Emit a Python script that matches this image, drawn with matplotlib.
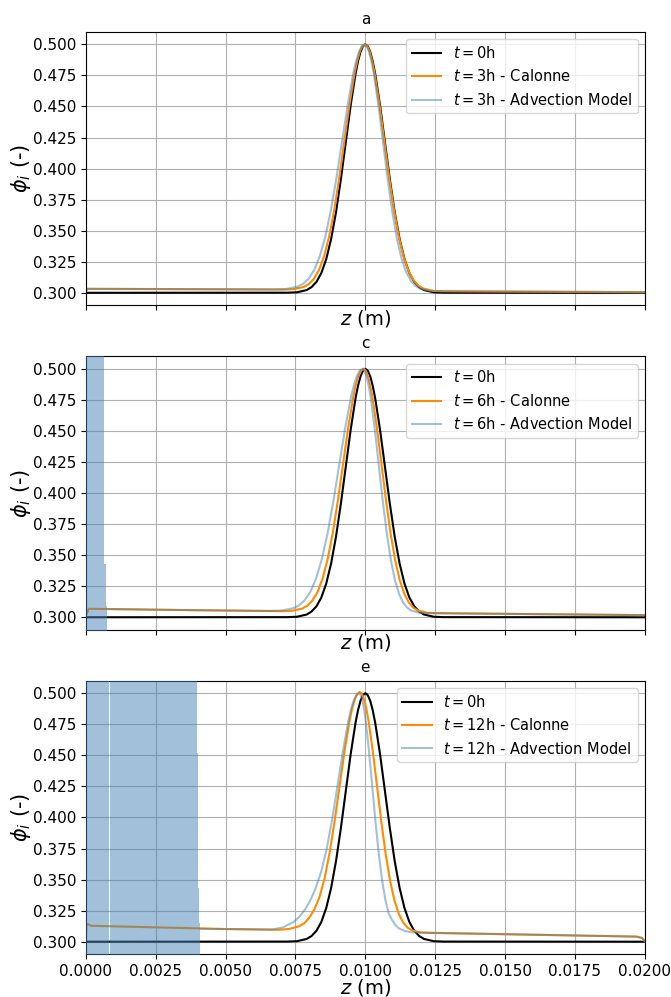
import numpy as np
import matplotlib
matplotlib.use('Agg')
import matplotlib.pyplot as plt
from matplotlib.ticker import MultipleLocator

# initial profile (same for every panel)
z_init = [0.0, 0.0072, 0.00755, 0.0079, 0.008075, 0.00825, 0.008425, 0.0086, 0.008775, 0.00895,
          0.009125, 0.0093, 0.009475, 0.00965, 0.0097375, 0.009825, 0.0099125, 0.01,
          0.0100875, 0.010175, 0.0102625, 0.01035, 0.010525, 0.0107,
          0.010875, 0.01105, 0.011225, 0.0114, 0.011575, 0.01175, 0.011925, 0.0121, 0.01245, 0.0128, 0.02]
phi_init = [0.3, 0.3001, 0.3004, 0.3022, 0.3046, 0.3088, 0.3159, 0.3271, 0.3433, 0.3649,
            0.3916, 0.4213, 0.4510, 0.4765, 0.4864, 0.4938, 0.4984, 0.5,
            0.4984, 0.4938, 0.4864, 0.4765, 0.4510, 0.4213,
            0.3916, 0.3649, 0.3433, 0.3271, 0.3159, 0.3088, 0.3046, 0.3022, 0.3004, 0.3001, 0.3]

# t = 3h
z_cal_3 = [0.0, 0.00004, 0.0035, 0.00706, 0.007425, 0.00779, 0.0079725, 0.008155, 0.0083375, 0.00852,
           0.0087025, 0.008885, 0.0090675, 0.00925, 0.0094325, 0.009615, 0.0097063, 0.0097975,
           0.0098888, 0.00998, 0.0100675, 0.010155, 0.0102425, 0.01033, 0.010505, 0.01068, 0.010855,
           0.01103, 0.011205, 0.01138, 0.011555, 0.01173, 0.011905, 0.01208, 0.01243, 0.01278, 0.02]
phi_cal_3 = [0.3013, 0.3032, 0.3029, 0.3026, 0.3029, 0.3047, 0.3070, 0.3112, 0.3182, 0.3292,
             0.3452, 0.3666, 0.3929, 0.4223, 0.4516, 0.4768, 0.4866, 0.4939,
             0.4985, 0.5, 0.4985, 0.4939, 0.4865, 0.4766, 0.4513, 0.4218, 0.3922,
             0.3658, 0.3442, 0.3281, 0.3170, 0.3099, 0.3057, 0.3034, 0.3016, 0.3013, 0.3005]
z_adv_3 = [0.0, 0.00004, 0.0035, 0.00677, 0.00717, 0.00757, 0.00777, 0.00797, 0.00817, 0.00837,
           0.00857, 0.00877, 0.00897, 0.00917, 0.00937, 0.00957, 0.00967, 0.00977,
           0.00987, 0.00997, 0.0100525, 0.010135, 0.0102175, 0.0103, 0.010465, 0.01063, 0.010795,
           0.01096, 0.011125, 0.01129, 0.011455, 0.01162, 0.011785, 0.01195, 0.01228, 0.01261, 0.02]
phi_adv_3 = [0.3013, 0.3032, 0.3030, 0.3028, 0.3031, 0.3049, 0.3072, 0.3114, 0.3184, 0.3294,
             0.3454, 0.3668, 0.3930, 0.4224, 0.4516, 0.4768, 0.4866, 0.4939,
             0.4985, 0.5, 0.4985, 0.4939, 0.4865, 0.4766, 0.4513, 0.4218, 0.3922,
             0.3658, 0.3442, 0.3281, 0.3170, 0.3099, 0.3057, 0.3034, 0.3016, 0.3013, 0.3005]

# t = 6h
z_cal_6 = [0.0, 0.0001, 0.0005, 0.0035, 0.00701, 0.007375, 0.00774, 0.0079225, 0.008105, 0.0082875,
           0.00847, 0.0086525, 0.008835, 0.0090175, 0.0092, 0.0093825, 0.009565, 0.0096563,
           0.0097475, 0.0098388, 0.00993, 0.0100113, 0.0100925, 0.0101738, 0.010255, 0.0104175,
           0.01058, 0.0107425, 0.010905, 0.0110675, 0.01123, 0.0113925, 0.011555, 0.0117175,
           0.01188, 0.012205, 0.01253, 0.02]
phi_cal_6 = [0.3012, 0.3068, 0.3067, 0.3058, 0.3049, 0.3052, 0.3070, 0.3093, 0.3134, 0.3203,
             0.3312, 0.3470, 0.3682, 0.3942, 0.4232, 0.4521, 0.4771, 0.4868,
             0.4940, 0.4985, 0.5, 0.4985, 0.4939, 0.4866, 0.4769, 0.4517,
             0.4226, 0.3933, 0.3671, 0.3458, 0.3298, 0.3189, 0.3118, 0.3077,
             0.3054, 0.3036, 0.3033, 0.3017]
z_adv_6 = [0.00077, 0.0035, 0.00658, 0.006995, 0.00741, 0.0076175, 0.007825, 0.0080325, 0.00824,
           0.0084475, 0.008655, 0.0088625, 0.00907, 0.0092775, 0.009485, 0.0095888, 0.0096925,
           0.0097963, 0.0099, 0.0099725, 0.010045, 0.0101175, 0.01019, 0.010335, 0.01048,
           0.010625, 0.01077, 0.010915, 0.01106, 0.011205, 0.01135, 0.011495, 0.01164,
           0.01193, 0.01222, 0.02]
phi_adv_6 = [0.3066, 0.3058, 0.3051, 0.3054, 0.3072, 0.3094, 0.3136, 0.3205, 0.3314,
             0.3472, 0.3683, 0.3943, 0.4233, 0.4522, 0.4771, 0.4868, 0.4940,
             0.4985, 0.5, 0.4985, 0.4939, 0.4866, 0.4769, 0.4517, 0.4226,
             0.3933, 0.3671, 0.3458, 0.3298, 0.3189, 0.3118, 0.3077, 0.3054,
             0.3036, 0.3033, 0.3017]
# oscillating part of the advection solution near z = 0 (envelope)
z_osc_6 = [0.0, 0.00065, 0.00072, 0.00077]
lo_osc_6 = [0.28, 0.28, 0.28, 0.3066]
hi_osc_6 = [0.52, 0.343, 0.309, 0.3066]

# t = 12h
z_cal_12 = [0.0, 0.00002, 0.0002, 0.005, 0.00692, 0.00728, 0.00764, 0.00782, 0.008, 0.00818,
            0.00836, 0.00854, 0.00872, 0.0089, 0.00908, 0.00926, 0.00944, 0.00953, 0.00962,
            0.00971, 0.0098, 0.0098775, 0.009955, 0.0100325, 0.01011, 0.010265, 0.01042,
            0.010575, 0.01073, 0.010885, 0.01104, 0.011195, 0.01135, 0.011505, 0.01166,
            0.01197, 0.01228, 0.0197, 0.0199, 0.02]
phi_cal_12 = [0.3, 0.3145, 0.3128, 0.3102, 0.3096, 0.3103, 0.3125, 0.3150, 0.3195, 0.3262,
              0.3360, 0.3510, 0.3715, 0.3971, 0.4256, 0.4540, 0.4785, 0.4880, 0.4951,
              0.4995, 0.501, 0.4995, 0.4950, 0.4878, 0.4782, 0.4534, 0.4247,
              0.3958, 0.3700, 0.3490, 0.3332, 0.3224, 0.3155, 0.3114, 0.3092,
              0.3074, 0.3071, 0.3041, 0.3030, 0.3005]
z_adv_12 = [0.0041, 0.005, 0.00666, 0.00705, 0.00744, 0.007635, 0.00783, 0.008025, 0.00822,
            0.008415, 0.00861, 0.008805, 0.009, 0.009195, 0.00939, 0.0094875, 0.009585,
            0.0096825, 0.00978, 0.0098388, 0.0098975, 0.0099563, 0.010015, 0.0101325, 0.01025,
            0.0103675, 0.010485, 0.0106025, 0.01072, 0.0108375, 0.010955, 0.0110725, 0.01119,
            0.011425, 0.01166, 0.0197, 0.0199, 0.02]
phi_adv_12 = [0.3104, 0.3102, 0.3098, 0.3115, 0.3160, 0.3200, 0.3255, 0.3330, 0.3430,
              0.3560, 0.3740, 0.3975, 0.4250, 0.4532, 0.4776, 0.4871, 0.4941,
              0.4985, 0.5, 0.4985, 0.4941, 0.4869, 0.4773, 0.4527, 0.4241,
              0.3955, 0.3698, 0.3489, 0.3333, 0.3225, 0.3175, 0.3135, 0.3108,
              0.3085, 0.3075, 0.3041, 0.3030, 0.3005]
z_osc_12 = [0.0, 0.000815, 0.000855, 0.00398, 0.00402, 0.00405, 0.0041]
lo_osc_12 = [0.28, 0.3127, 0.28, 0.28, 0.28, 0.28, 0.3104]
hi_osc_12 = [0.52, 0.3127, 0.52, 0.452, 0.343, 0.315, 0.3104]

panels = [
    ('a', '3', z_cal_3, phi_cal_3, z_adv_3, phi_adv_3, None),
    ('c', '6', z_cal_6, phi_cal_6, z_adv_6, phi_adv_6, (z_osc_6, lo_osc_6, hi_osc_6)),
    ('e', '12', z_cal_12, phi_cal_12, z_adv_12, phi_adv_12, (z_osc_12, lo_osc_12, hi_osc_12)),
]

fig, axes = plt.subplots(3, 1, figsize=(6.71, 9.97), dpi=100, sharex=True)
fig.subplots_adjust(left=0.128, right=0.961, top=0.968, bottom=0.043, hspace=0.187)

for i, (ax, (title, t, zc, pc, za, pa, osc)) in enumerate(zip(axes, panels)):
    ax.plot(z_init, phi_init, color='black', label=r'$t = 0$h')
    ax.plot(zc, pc, color='darkorange', label=r'$t = %s$h - Calonne' % t)
    ax.plot(za, pa, color='steelblue', alpha=0.5, label=r'$t = %s$h - Advection Model' % t)
    if osc is not None:
        # solution oscillates too fast to resolve here: shade its envelope
        ax.fill_between(osc[0], osc[1], osc[2], step='post', color='steelblue',
                        alpha=0.5, linewidth=0, zorder=3)
    ax.set_xlim(0, 0.02)
    ax.set_ylim(0.29, 0.51)
    ax.xaxis.set_major_locator(MultipleLocator(0.0025))
    ax.yaxis.set_major_locator(MultipleLocator(0.025))
    ax.tick_params(labelsize=11)
    ax.grid(True)
    ax.set_title(title, fontsize=11)
    ax.set_xlabel(r'$z$ (m)', fontsize=14, labelpad=-1.8 if i < 2 else -1.0)
    ax.set_ylabel(r'$\phi_i$ (-)', fontsize=15, labelpad=-0.5)
    ax.legend(fontsize=10.5, loc='upper right')

fig.savefig('out.png')
